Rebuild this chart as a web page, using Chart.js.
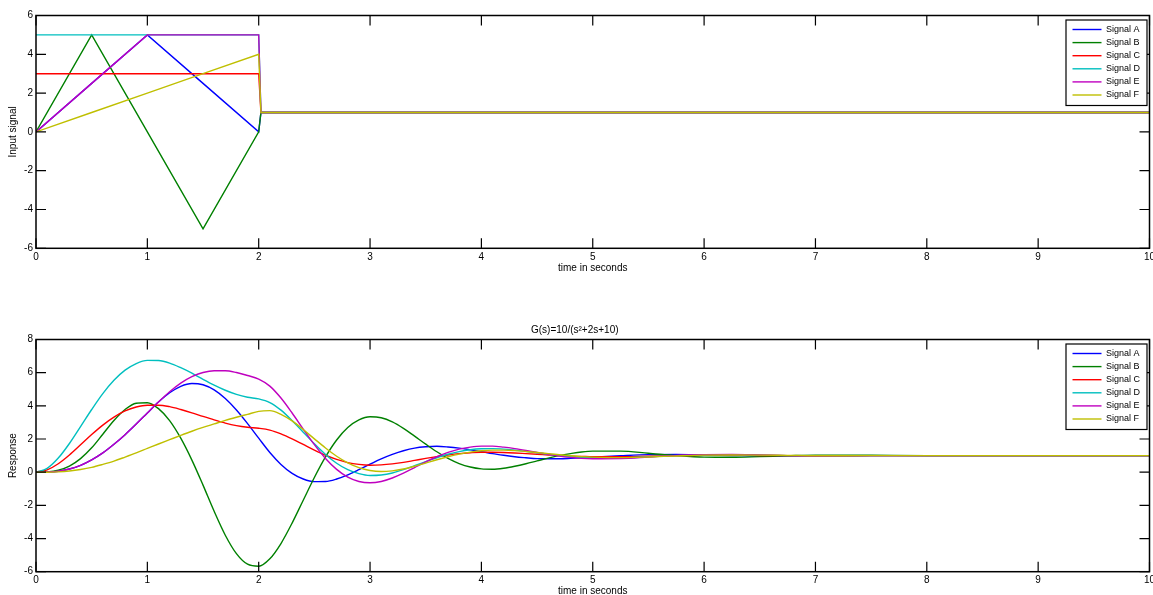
<!DOCTYPE html>
<html>
<head>
<meta charset="utf-8">
<script src="https://cdn.jsdelivr.net/npm/chart.js@4/dist/chart.umd.min.js"></script>
<style>
html, body { margin: 0; padding: 0; background: #fff; overflow: hidden; }
canvas { position: absolute; left: 0; }
#inputChart { top: 0; }
#responseChart { top: 300px; }
</style>
</head>
<body>
<canvas id="inputChart" width="1153" height="300"></canvas>
<canvas id="responseChart" width="1153" height="300"></canvas>
<script>
const labels = ['Signal A', 'Signal B', 'Signal C', 'Signal D', 'Signal E', 'Signal F'];
const colors = ['#0000ff', '#008000', '#ff0000', '#00bfbf', '#bf00bf', '#bfbf00'];

// input signals (top plot)
const inputTime = [0, 0.5, 1, 1.5, 2, 2.02, 10];
const inputA = [0, 2.5, 5, 2.5, 0, 1, 1];
const inputB = [0, 5, 0, -5, 0, 1, 1];
const inputC = [3, 3, 3, 3, 3, 1, 1];
const inputD = [5, 5, 5, 5, 5, 1, 1];
const inputE = [0, 2.5, 5, 5, 5, 1, 1];
const inputF = [0, 1, 2, 3, 4, 1, 1];

// responses (bottom plot)
const respTime = [0, 0.1, 0.2, 0.3, 0.4, 0.5, 0.6, 0.7, 0.8, 0.9, 1.0, 1.1, 1.2, 1.3, 1.4, 1.5, 1.6, 1.7, 1.8, 1.9, 2.0,
  2.1, 2.2, 2.3, 2.4, 2.5, 2.6, 2.7, 2.8, 2.9, 3.0, 3.1, 3.2, 3.3, 3.4, 3.5, 3.6, 3.7, 3.8, 3.9, 4.0,
  4.1, 4.2, 4.3, 4.4, 4.5, 4.6, 4.7, 4.8, 4.9, 5.0, 5.25, 5.5, 5.75, 6, 6.25, 6.5, 6.75, 7, 7.5, 8, 9, 10];
const respA = [0, 0.01, 0.06, 0.19, 0.41, 0.74, 1.16, 1.68, 2.26, 2.90, 3.57, 4.23, 4.79, 5.18, 5.35, 5.27, 4.96, 4.44, 3.75, 2.93, 2.05,
  1.19, 0.47, -0.07, -0.41, -0.57, -0.56, -0.41, -0.16, 0.15, 0.48, 0.80, 1.07, 1.29, 1.45, 1.53, 1.56, 1.52, 1.45, 1.35, 1.24,
  1.12, 1.02, 0.93, 0.87, 0.82, 0.81, 0.81, 0.83, 0.86, 0.90, 0.99, 1.06, 1.07, 1.04, 1.01, 0.98, 0.98, 0.98, 1.00, 1.00, 1.00, 1.00];
const respB = [0, 0.02, 0.12, 0.37, 0.82, 1.47, 2.29, 3.12, 3.78, 4.16, 4.19, 3.83, 3.11, 2.05, 0.73, -0.78, -2.36, -3.80, -4.91, -5.55, -5.67,
  -5.22, -4.30, -3.07, -1.69, -0.32, 0.92, 1.94, 2.69, 3.15, 3.34, 3.28, 3.03, 2.64, 2.17, 1.69, 1.23, 0.83, 0.52, 0.31, 0.20,
  0.18, 0.24, 0.36, 0.51, 0.68, 0.85, 1.00, 1.12, 1.22, 1.27, 1.27, 1.14, 1.00, 0.91, 0.90, 0.94, 0.99, 1.03, 1.02, 1.00, 1.00, 1.00];
const respC = [0, 0.14, 0.51, 1.04, 1.65, 2.27, 2.84, 3.32, 3.69, 3.93, 4.04, 4.04, 3.95, 3.78, 3.58, 3.36, 3.15, 2.96, 2.81, 2.71, 2.65,
  2.54, 2.31, 2.01, 1.67, 1.33, 1.02, 0.77, 0.58, 0.47, 0.42, 0.44, 0.50, 0.59, 0.71, 0.83, 0.94, 1.04, 1.12, 1.17, 1.20,
  1.20, 1.19, 1.16, 1.12, 1.08, 1.04, 1.00, 0.97, 0.95, 0.93, 0.93, 0.97, 1.00, 1.02, 1.02, 1.01, 1.00, 0.99, 1.00, 1.00, 1.00, 1.00];
const respD = [0, 0.23, 0.85, 1.73, 2.75, 3.78, 4.74, 5.54, 6.15, 6.55, 6.74, 6.73, 6.58, 6.30, 5.97, 5.60, 5.25, 4.94, 4.69, 4.52, 4.42,
  4.20, 3.74, 3.11, 2.41, 1.71, 1.07, 0.54, 0.15, -0.09, -0.20, -0.17, -0.05, 0.15, 0.39, 0.64, 0.87, 1.08, 1.24, 1.35, 1.41,
  1.42, 1.39, 1.33, 1.26, 1.17, 1.08, 1.00, 0.94, 0.89, 0.86, 0.86, 0.93, 1.00, 1.04, 1.05, 1.03, 1.00, 0.99, 1.00, 1.00, 1.00, 1.00];
const respE = [0, 0.01, 0.06, 0.19, 0.41, 0.74, 1.16, 1.68, 2.26, 2.90, 3.57, 4.23, 4.85, 5.37, 5.76, 6.01, 6.12, 6.12, 6.01, 5.83, 5.61,
  5.19, 4.47, 3.57, 2.60, 1.66, 0.83, 0.17, -0.30, -0.56, -0.64, -0.56, -0.35, -0.06, 0.28, 0.62, 0.93, 1.19, 1.39, 1.51, 1.57,
  1.57, 1.51, 1.42, 1.31, 1.19, 1.08, 0.97, 0.89, 0.83, 0.81, 0.82, 0.91, 1.01, 1.06, 1.07, 1.04, 1.00, 0.98, 1.00, 1.00, 1.00, 1.00];
const respF = [0, 0.00, 0.02, 0.07, 0.16, 0.29, 0.47, 0.67, 0.91, 1.16, 1.43, 1.70, 1.96, 2.22, 2.47, 2.70, 2.91, 3.12, 3.31, 3.49, 3.67,
  3.71, 3.49, 3.09, 2.57, 2.01, 1.46, 0.96, 0.56, 0.27, 0.10, 0.04, 0.08, 0.19, 0.36, 0.55, 0.75, 0.93, 1.09, 1.21, 1.29,
  1.33, 1.33, 1.30, 1.25, 1.19, 1.12, 1.05, 0.99, 0.94, 0.91, 0.88, 0.92, 0.98, 1.03, 1.04, 1.03, 1.01, 0.99, 1.00, 1.00, 1.00, 1.00];

const xTicks = [0, 1, 2, 3, 4, 5, 6, 7, 8, 9, 10];

const family = "'Liberation Sans', Arial, sans-serif";
const font = { family, size: 10 };

function makeSets(time, series, smooth) {
  return series.map((vals, i) => ({
    label: labels[i],
    data: vals.map((v, k) => ({ x: time[k], y: v })),
    borderColor: colors[i],
    borderWidth: 1.4,
    pointRadius: 0,
    fill: false,
    tension: 0,
    cubicInterpolationMode: smooth ? 'monotone' : 'default',
    order: series.length - i
  }));
}

// box with inward ticks + MATLAB style legend
const frame = {
  id: 'frame',
  afterDraw(chart) {
    const { ctx, chartArea: a, scales: { x, y } } = chart;
    ctx.save();
    ctx.strokeStyle = '#000';
    ctx.lineWidth = 1.5;
    ctx.strokeRect(a.left, a.top, a.right - a.left, a.bottom - a.top);
    ctx.lineWidth = 1.2;
    ctx.beginPath();
    x.ticks.forEach(t => {
      const px = x.getPixelForValue(t.value);
      ctx.moveTo(px, a.bottom); ctx.lineTo(px, a.bottom - 10);
      ctx.moveTo(px, a.top); ctx.lineTo(px, a.top + 10);
    });
    y.ticks.forEach(t => {
      const py = y.getPixelForValue(t.value);
      ctx.moveTo(a.left, py); ctx.lineTo(a.left + 10, py);
      ctx.moveTo(a.right, py); ctx.lineTo(a.right - 10, py);
    });
    ctx.stroke();

    const bx = a.right - 83.5, by = a.top + 4.5, bw = 81, bh = 85.5;
    ctx.fillStyle = '#fff';
    ctx.fillRect(bx, by, bw, bh);
    ctx.lineWidth = 1.2;
    ctx.strokeRect(bx, by, bw, bh);
    ctx.font = '9px ' + family;
    ctx.textBaseline = 'middle';
    ctx.textAlign = 'left';
    chart.data.datasets.forEach((ds, i) => {
      const ry = by + 9.5 + i * 13.1;
      ctx.strokeStyle = ds.borderColor;
      ctx.lineWidth = 1.4;
      ctx.beginPath();
      ctx.moveTo(bx + 6.5, ry); ctx.lineTo(bx + 35.5, ry);
      ctx.stroke();
      ctx.fillStyle = '#000';
      ctx.fillText(ds.label, bx + 40, ry);
    });
    ctx.restore();
  }
};

function xAxis(h, pad) {
  return {
    type: 'linear', min: 0, max: 10,
    afterBuildTicks: s => { s.ticks = xTicks.map(v => ({ value: v })); },
    ticks: { color: '#000', font, padding: 3, maxRotation: 0, autoSkip: false },
    grid: { display: false, drawTicks: false },
    border: { display: false },
    title: { display: true, text: 'time in seconds', color: '#000', font, padding: { top: 0, bottom: pad } },
    afterFit: s => { s.height = h; s.paddingLeft = 0; s.paddingRight = 0; }
  };
}

function yAxis(min, max, text) {
  return {
    min, max,
    ticks: { stepSize: 2, color: '#000', font, padding: 3 },
    grid: { display: false, drawTicks: false },
    border: { display: false },
    title: { display: true, text, color: '#000', font, padding: { top: 7, bottom: 0 } },
    afterFit: s => { s.width = 36; s.paddingTop = 0; s.paddingBottom = 0; }
  };
}

new Chart(document.getElementById('inputChart'), {
  type: 'line',
  data: { datasets: makeSets(inputTime, [inputA, inputB, inputC, inputD, inputE, inputF], false) },
  options: {
    responsive: false, animation: false,
    layout: { padding: { left: 0, right: 3.5, top: 15.5, bottom: 21.7 } },
    plugins: { legend: { display: false }, tooltip: { enabled: false } },
    scales: { x: xAxis(30, 4.3), y: yAxis(-6, 6, 'Input signal') }
  },
  plugins: [frame]
});

new Chart(document.getElementById('responseChart'), {
  type: 'line',
  data: { datasets: makeSets(respTime, [respA, respB, respC, respD, respE, respF], true) },
  options: {
    responsive: false, animation: false,
    layout: { padding: { left: 0, right: 3.5, top: 0, bottom: 0 } },
    plugins: {
      legend: { display: false }, tooltip: { enabled: false },
      title: { display: true, text: 'G(s)=10/(s²+2s+10)', color: '#000', font: { family, size: 10, weight: 'normal' }, padding: { top: 24, bottom: 3.5 } }
    },
    scales: { x: xAxis(28.3, 3), y: yAxis(-6, 8, 'Response') }
  },
  plugins: [frame]
});
</script>
</body>
</html>
